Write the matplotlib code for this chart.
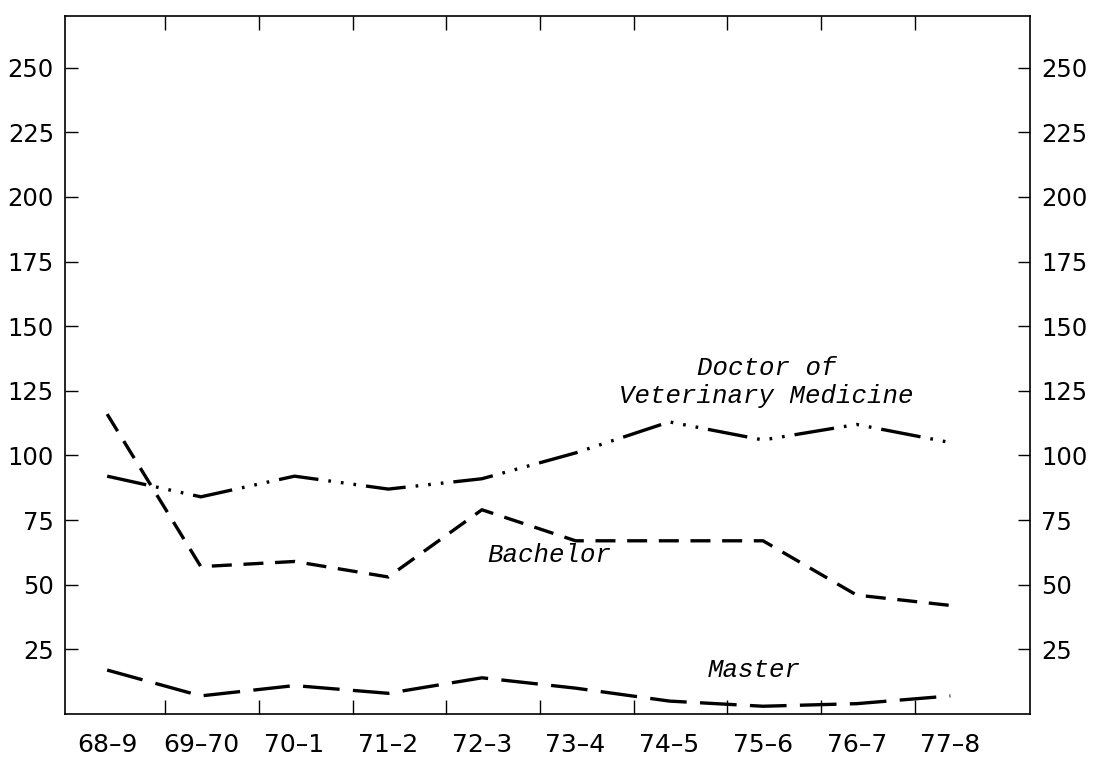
import matplotlib
matplotlib.use("Agg")
import matplotlib.pyplot as plt
import numpy as np

years = ["68\u20139", "69\u201370", "70\u20131", "71\u20132", "72\u20133",
         "73\u20134", "74\u20135", "75\u20136", "76\u20137", "77\u20138"]
dvm = [92, 84, 92, 87, 91, 101, 113, 106, 112, 105]
bachelor = [116, 57, 59, 53, 79, 67, 67, 67, 46, 42]
master = [17, 7, 11, 8, 14, 10, 5, 3, 4, 7]
yticks = [25, 50, 75, 100, 125, 150, 175, 200, 225, 250]

fig = plt.figure(figsize=(11.18, 7.61), dpi=100)
ax = fig.add_axes([65/1118, 1-714/761, (1030-65)/1118, (714-16)/761])

x = np.arange(len(years))
lw = 2.4
ax.plot(x, dvm, color="black", lw=lw,
        linestyle=(0, (12, 3, 0.8, 3, 0.8, 3, 0.8, 3)))
ax.plot(x, bachelor, color="black", lw=lw, linestyle=(0, (6, 3.5)))
ax.plot(x, master, color="black", lw=lw, linestyle=(0, (11, 4)))

ax.set_xlim(-0.45, 9.85)
ax.set_ylim(0, 270)

ax.set_yticks(yticks)
ax.set_yticklabels([str(v) for v in yticks])
ax.tick_params(axis="y", direction="in", length=9, width=1, labelsize=17.5,
               left=True, right=True, labelleft=True, labelright=True, pad=8)
for lab in ax.get_yticklabels(which="major"):
    pass
ax.yaxis.set_tick_params(which="major", pad=8)
ax.set_xticks(x)
ax.set_xticklabels(years)
ax.tick_params(axis="x", which="major", length=0, labelsize=18, pad=14)
ax.set_xticks(np.arange(9) + 0.62, minor=True)
ax.tick_params(axis="x", which="minor", direction="in", length=10, width=1,
               top=True, bottom=True)
for s in ax.spines.values():
    s.set_linewidth(1.2)

tfont = dict(family="Liberation Mono", style="italic", fontsize=18.5, color="black")
ax.text(7.04, 134, "Doctor of", ha="center", va="center", **tfont)
ax.text(7.04, 123, "Veterinary Medicine", ha="center", va="center", **tfont)
ax.text(4.72, 61.5, "Bachelor", ha="center", va="center", **tfont)
ax.text(6.91, 17, "Master", ha="center", va="center", **tfont)

fig.savefig("out.png", dpi=100)
